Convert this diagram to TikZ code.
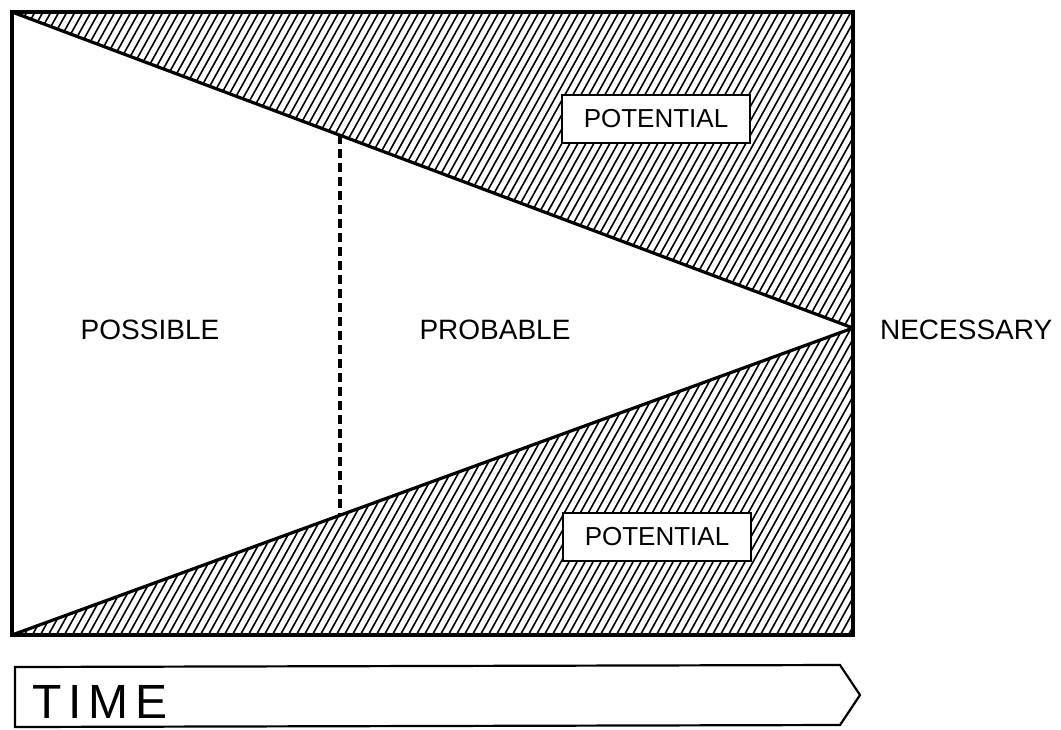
\documentclass[tikz,border=0pt]{standalone}
\usepackage{fontspec}
\setmainfont{Liberation Sans}
\usetikzlibrary{positioning, calc}

\begin{document}
\begin{tikzpicture}[
		x=0.5pt, y=-0.5pt,
		% Frame and cone styles
		frame/.style={draw=black, line width=1.9pt},
		coneline/.style={draw=black, line width=1.6pt},
		hatch/.style={draw=black, line width=0.8pt},
		divider/.style={draw=black, line width=2pt, dash pattern=on 4.5pt off 2.5pt},
		% Label styles
		zonelabel/.style={font=\fontsize{14}{16}\selectfont},
		tagbox/.style={draw=black, line width=1.1pt, fill=white, minimum width=94pt, minimum height=24pt, inner sep=2pt, font=\fontsize{13}{15}\selectfont},
		timearrow/.style={draw=black, line width=1.1pt, fill=white}
		]
		\useasboundingbox (0,0) rectangle (1061,729);
		
		% --- FRAME CORNERS ---
		\coordinate (NW) at (12,12);
		\coordinate (NE) at (853,12);
		\coordinate (SW) at (12,635);
		\coordinate (SE) at (853,635);
		\coordinate (apex) at (853,328);
		
		% --- HATCHED POTENTIAL REGIONS ---
		\begin{scope}
			\clip (NW) -- (NE) -- (apex) -- cycle;
			\foreach \i in {-400,-392,...,900}
			\draw[hatch] (\i,650) -- ++(370,-665);
		\end{scope}
		\begin{scope}
			\clip (SW) -- (SE) -- (apex) -- cycle;
			\foreach \i in {-400,-392,...,900}
			\draw[hatch] (\i,650) -- ++(370,-665);
		\end{scope}
		
		% --- CONE LINES ---
		\draw[coneline] (NW) -- (apex);
		\draw[coneline] (SW) -- (apex);
		
		% Divider between possible and probable
		\coordinate (divtop) at ($(NW)!0.39!(apex)$);
		\coordinate (divbot) at ($(SW)!0.39!(apex)$);
		\draw[divider] (divtop) -- (divbot);
		
		% Outer frame
		\draw[frame] (NW) rectangle (SE);
		
		% --- LABELS ---
		\node[zonelabel] (possible) at (150,330) {POSSIBLE};
		\node[zonelabel] (probable) at (495,330) {PROBABLE};
		\node[zonelabel, right=10pt of apex, yshift=-1pt] (necessary) {NECESSARY};
		\node[tagbox] (pottop) at (656,119) {POTENTIAL};
		\node[tagbox] (potbot) at (657,537) {POTENTIAL};
		
		% --- TIME ARROW ---
		\draw[timearrow] (15,667) -- (840,665) -- (860,695) -- (840,725) -- (15,727) -- cycle;
		\node[anchor=base west, inner sep=0pt, font=\fontsize{24}{26}\selectfont\addfontfeatures{LetterSpace=14}] (time) at (32,718) {TIME};
		
	\end{tikzpicture}
\end{document}
